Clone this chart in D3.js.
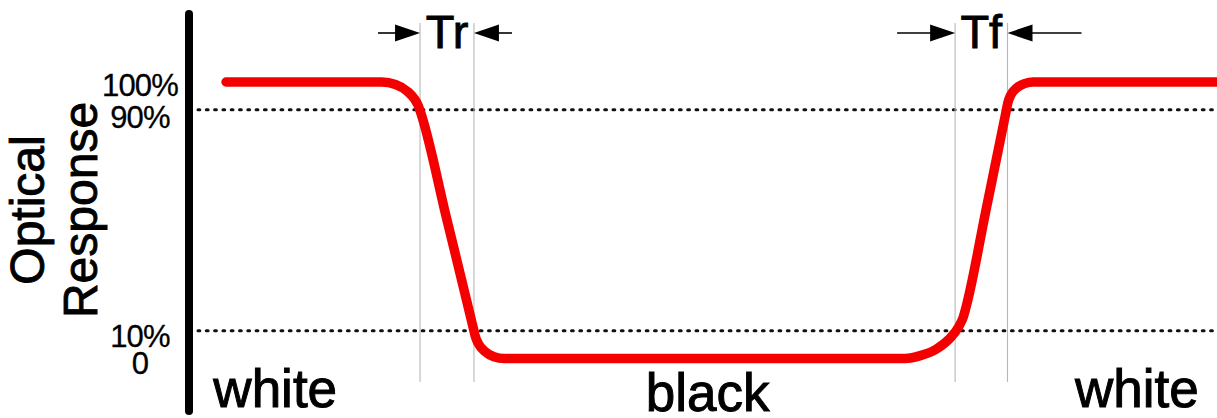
<!DOCTYPE html>
<html>
<head>
<meta charset="utf-8">
<script src="https://cdn.jsdelivr.net/npm/d3@7/dist/d3.min.js"></script>
<style>
  html, body { margin: 0; padding: 0; background: #fff; }
  svg { display: block; font-family: "Liberation Sans", Arial, sans-serif; }
</style>
</head>
<body>
<svg id="chart" width="1217" height="418"></svg>
<script>
// Optical response of a pixel switching white -> black -> white.
// Time in arbitrary units, response in percent of full transmission.
const responseTime = [3.51, 18.68, 20.01, 21.18, 21.87, 22.21, 22.46, 25.02, 27.65, 27.76, 28.07, 28.72, 29.6, 30.6,
                      69.62, 71.19, 72.65, 73.9, 74.87, 75.31, 75.59, 77.53, 79.5, 79.63, 79.92, 80.49, 81.25, 82.11, 102];
const responseValue = [100, 100, 99.13, 96.6, 93.8, 91.6, 88.97, 50.1, 10, 8.28, 5.42, 2.53, 0.65, 0,
                       0, 1.12, 3.36, 6.94, 11.61, 15.15, 18.95, 54.1, 90, 92.4, 95.3, 97.8, 99.4, 100, 100];

// Threshold levels and their labels
const tickValues = [100, 90, 10, 0];
const tickLabels = ["100%", "90%", "10%", "0"];
const thresholdLevels = [90, 10];

// Transition windows measured between the 90% and 10% crossings
const transitionNames = ["Tr", "Tf"];
const transitionStart = [22.4, 74.5];
const transitionEnd = [27.65, 79.6];

// Display state during each phase
const stateNames = ["white", "black", "white"];
const stateCentre = [8.3, 50.4, 92.2];

const svg = d3.select("#chart");
const x = d3.scaleLinear().domain([0, 100]).range([190, 1217]);
const y = d3.scaleLinear().domain([0, 100]).range([358.5, 82]);

// Dotted threshold lines
svg.selectAll("line.threshold")
  .data(thresholdLevels)
  .join("line")
  .attr("class", "threshold")
  .attr("x1", 198).attr("x2", 1220)
  .attr("y1", d => y(d)).attr("y2", d => y(d))
  .attr("stroke", "#111")
  .attr("stroke-width", 3)
  .attr("stroke-linecap", "round")
  .attr("stroke-dasharray", "1.8,6.5");

// Thin vertical guides marking each transition window
const guideTimes = transitionStart.flatMap((s, i) => [s, transitionEnd[i]]);
svg.selectAll("line.guide")
  .data(guideTimes)
  .join("line")
  .attr("class", "guide")
  .attr("x1", d => x(d)).attr("x2", d => x(d))
  .attr("y1", 23).attr("y2", 382)
  .attr("stroke", "#b8b8b8")
  .attr("stroke-width", 1.1);

// Response curve
const line = d3.line()
  .x((d, i) => x(responseTime[i]))
  .y(d => y(d))
  .curve(d3.curveMonotoneX);
svg.append("path")
  .attr("d", line(responseValue))
  .attr("fill", "none")
  .attr("stroke", "#f50000")
  .attr("stroke-width", 9.5)
  .attr("stroke-linecap", "round")
  .attr("stroke-linejoin", "round");

// Vertical axis: heavy bar with the threshold labels stacked to its left
const axisX = 189;
const labelNudge = [13, 17.5, 16, 14.5];
const axis = d3.axisLeft(y)
  .tickValues(tickValues)
  .tickFormat((d, i) => tickLabels[i])
  .tickSize(0);
const axisG = svg.append("g").attr("transform", `translate(${axisX},0)`).call(axis);
axisG.select(".domain").remove();
axisG.selectAll(".tick text")
  .attr("x", -49)
  .attr("dy", null)
  .attr("y", (d, i) => labelNudge[i])
  .attr("text-anchor", "middle")
  .attr("font-family", "Liberation Sans, Arial, sans-serif")
  .attr("font-size", 31)
  .attr("letter-spacing", -0.8)
  .attr("fill", "#000")
  .attr("stroke", "#000")
  .attr("stroke-width", 0.3);
svg.append("line")
  .attr("x1", axisX).attr("x2", axisX)
  .attr("y1", 14).attr("y2", 411)
  .attr("stroke", "#000")
  .attr("stroke-width", 8)
  .attr("stroke-linecap", "round");

// Axis title on two rotated lines
const titleLines = ["Optical", "Response"];
const titleBaseX = [44, 97];
svg.selectAll("text.title")
  .data(titleLines)
  .join("text")
  .attr("class", "title")
  .attr("transform", (d, i) => `translate(${titleBaseX[i]},210) rotate(-90)`)
  .attr("text-anchor", "middle")
  .attr("font-size", 48)
  .attr("fill", "#000")
  .attr("stroke", "#000")
  .attr("stroke-width", 0.9)
  .text(d => d);

// Phase labels along the bottom
svg.selectAll("text.state")
  .data(stateNames)
  .join("text")
  .attr("class", "state")
  .attr("x", (d, i) => x(stateCentre[i]))
  .attr("y", (d, i) => i === 1 ? 411 : 407)
  .attr("text-anchor", "middle")
  .attr("font-size", 53)
  .attr("fill", "#000")
  .attr("stroke", "#000")
  .attr("stroke-width", 1)
  .text(d => d);

// Transition labels with inward-pointing arrows
const arrowTail = [[42, 38], [58, 74]];
const arrowY = 33;
const headLen = 25, headHalf = 8.5;
transitionNames.forEach((name, i) => {
  const x0 = x(transitionStart[i]);
  const x1 = x(transitionEnd[i]);
  svg.append("text")
    .attr("x", (x0 + x1) / 2)
    .attr("y", 48)
    .attr("text-anchor", "middle")
    .attr("font-size", 47)
    .attr("fill", "#000")
    .attr("stroke", "#000")
    .attr("stroke-width", 0.9)
    .text(name);
  // left arrow pointing right to x0
  svg.append("line")
    .attr("x1", x0 - arrowTail[i][0]).attr("x2", x0 - headLen + 2)
    .attr("y1", arrowY).attr("y2", arrowY)
    .attr("stroke", "#000").attr("stroke-width", 1.6);
  svg.append("path")
    .attr("d", `M${x0},${arrowY} L${x0 - headLen},${arrowY - headHalf} L${x0 - headLen},${arrowY + headHalf} Z`)
    .attr("fill", "#000");
  // right arrow pointing left to x1
  svg.append("line")
    .attr("x1", x1 + arrowTail[i][1]).attr("x2", x1 + headLen - 2)
    .attr("y1", arrowY).attr("y2", arrowY)
    .attr("stroke", "#000").attr("stroke-width", 1.6);
  svg.append("path")
    .attr("d", `M${x1},${arrowY} L${x1 + headLen},${arrowY - headHalf} L${x1 + headLen},${arrowY + headHalf} Z`)
    .attr("fill", "#000");
});
</script>
</body>
</html>
